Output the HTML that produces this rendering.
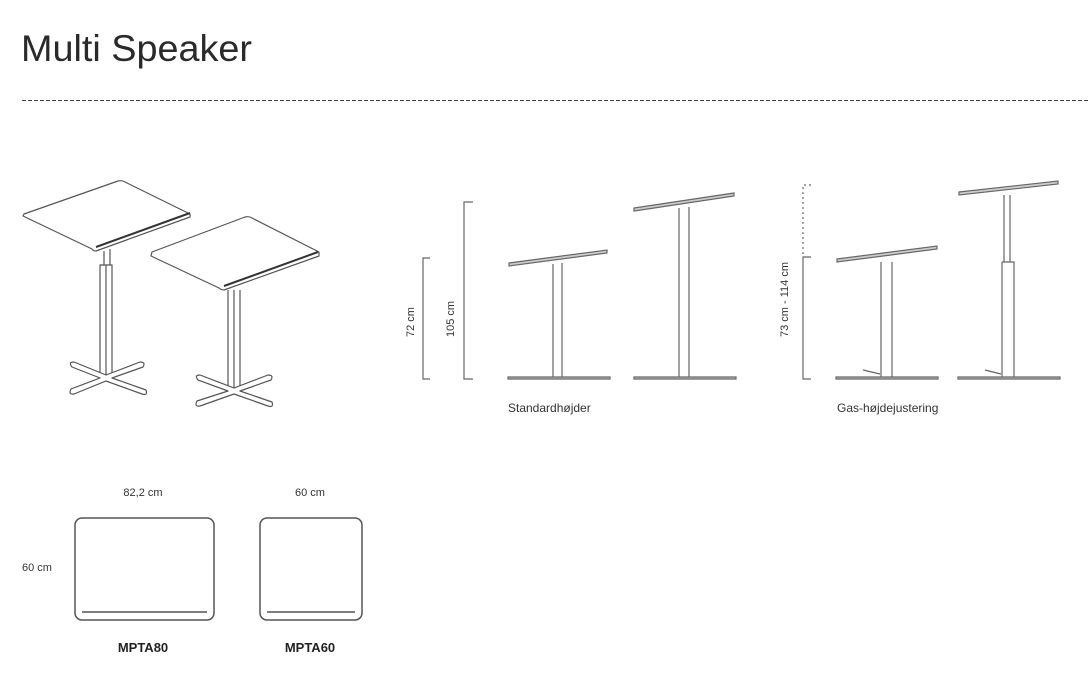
<!DOCTYPE html>
<html><head><meta charset="utf-8"><style>
html,body{margin:0;padding:0;background:#fff;width:1088px;height:682px;overflow:hidden}
svg{display:block}
text{font-family:"Liberation Sans",sans-serif;fill:#333}
</style></head><body>
<svg width="1088" height="682" viewBox="0 0 1088 682" xmlns="http://www.w3.org/2000/svg">
<text x="21" y="61" font-size="37" style="fill:#2a2a2a" textLength="231" lengthAdjust="spacingAndGlyphs">Multi Speaker</text>
<line x1="22" y1="100.5" x2="1088" y2="100.5" stroke="#444" stroke-width="1" stroke-dasharray="4,2"/>

<g fill="none" stroke="#555" stroke-width="1.2" stroke-linejoin="round">
<!-- iso table 1 -->
<path d="M24 214 L118 181 Q122 180 125 182 L190 214 L190 217 L96 251 Q93 251 92 249 L23 216 Z" fill="#fff"/>
<path d="M96 247 L190 213" stroke="#333" stroke-width="2"/>
<path d="M104 251 L104 265 M110 249 L110 265"/>
<path d="M100 265 L112 265 L112 377 L100 377 Z"/>
<path d="M106 265 L106 377"/>
<path d="M72 367 Q68 362 74 362 L106 375 L140 362 Q146 362 143 367 L112 378 L146 390 Q148 396 142 394 L106 381 L74 394 Q68 395 71 389 L100 378 Z" fill="#fff"/>
<!-- iso table 2 -->
<path d="M152 252 L245 217 Q249 216 252 218 L319 252 L319 256 L224 290 Q221 290 219 288 L151 256 Z" fill="#fff"/>
<path d="M224 286 L318 252" stroke="#333" stroke-width="2"/>
<path d="M228 290 L228 390 L240 390 L240 290"/>
<path d="M234 290 L234 390"/>
<path d="M198 380 Q194 375 200 375 L234 388 L268 375 Q274 375 271 380 L240 391 L272 402 Q274 408 268 406 L234 394 L200 406 Q194 407 197 401 L228 391 Z" fill="#fff"/>
</g>

<!-- standard heights -->
<g fill="none" stroke="#666" stroke-width="1.2">
<path d="M430 258 L423 258 L423 379 L430 379"/>
<path d="M473 202 L464 202 L464 379 L473 379"/>
<path d="M509 263 L607 250 L607 253 L509 266 Z" fill="#ccc"/>
<path d="M553 264 L553 377 M562 263 L562 377"/>
<path d="M508 377 L610 377 L610 379 L508 379 Z" fill="#ccc"/>
<path d="M634 208 L734 193 L734 196 L634 211 Z" fill="#ccc"/>
<path d="M679 208 L679 377 M689 207 L689 377"/>
<path d="M634 377 L736 377 L736 379 L634 379 Z" fill="#ccc"/>
</g>
<text transform="translate(414,337) rotate(-90)" font-size="11">72 cm</text>
<text transform="translate(454,337) rotate(-90)" font-size="11">105 cm</text>
<text x="508" y="412" font-size="12">Standardhøjder</text>

<!-- gas -->
<g fill="none" stroke="#666" stroke-width="1.2">
<path d="M811 185 L803 185 L803 257" stroke-dasharray="2,3"/>
<path d="M811 257 L803 257 L803 379 L811 379"/>
<path d="M837 259 L937 246 L937 249 L837 262 Z" fill="#ccc"/>
<path d="M881 262 L881 377 M892 262 L892 377"/>
<path d="M836 377 L938 377 L938 379 L836 379 Z" fill="#ccc"/>
<path d="M863 370 L880 374"/>
<path d="M959 192 L1058 181 L1058 184 L959 195 Z" fill="#ccc"/>
<path d="M1004 195 L1004 262 M1010 195 L1010 262"/>
<path d="M1002 262 L1014 262 L1014 377 M1002 262 L1002 377"/>
<path d="M958 377 L1060 377 L1060 379 L958 379 Z" fill="#ccc"/>
<path d="M985 370 L1001 374"/>
</g>
<text transform="translate(788,337) rotate(-90)" font-size="11">73 cm - 114 cm</text>
<text x="837" y="412" font-size="12">Gas-højdejustering</text>

<!-- top views -->
<g fill="none" stroke="#555" stroke-width="1.5">
<rect x="75" y="518" width="139" height="102" rx="7"/>
<line x1="82" y1="612" x2="207" y2="612"/>
<rect x="260" y="518" width="102" height="102" rx="7"/>
<line x1="267" y1="612" x2="355" y2="612"/>
</g>
<text x="143" y="496" font-size="11" text-anchor="middle">82,2 cm</text>
<text x="310" y="496" font-size="11" text-anchor="middle">60 cm</text>
<text x="22" y="571" font-size="11">60 cm</text>
<text x="143" y="652" font-size="13" font-weight="bold" text-anchor="middle" style="fill:#222">MPTA80</text>
<text x="310" y="652" font-size="13" font-weight="bold" text-anchor="middle" style="fill:#222">MPTA60</text>
</svg>
</body></html>
